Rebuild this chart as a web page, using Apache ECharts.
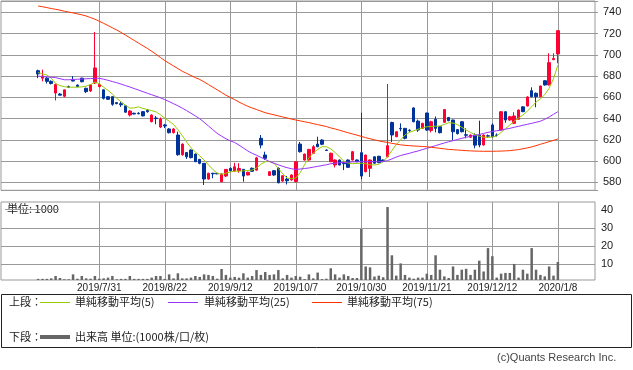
<!DOCTYPE html>
<html><head><meta charset="utf-8">
<script src="https://cdn.jsdelivr.net/npm/echarts@6/dist/echarts.min.js"></script>
<style>html,body{margin:0;padding:0;background:#fff}#c{width:633px;height:370px}</style>
</head><body><div id="c"></div>
<script>
const dates = ['2019/7/10','2019/7/11','2019/7/12','2019/7/16','2019/7/17','2019/7/18','2019/7/19','2019/7/22','2019/7/23','2019/7/24','2019/7/25','2019/7/26','2019/7/29','2019/7/30','2019/7/31',
'2019/8/1','2019/8/2','2019/8/5','2019/8/6','2019/8/7','2019/8/8','2019/8/9','2019/8/13','2019/8/14','2019/8/15','2019/8/16','2019/8/19','2019/8/20','2019/8/21','2019/8/22','2019/8/23','2019/8/26','2019/8/27','2019/8/28','2019/8/29','2019/8/30',
'2019/9/2','2019/9/3','2019/9/4','2019/9/5','2019/9/6','2019/9/9','2019/9/10','2019/9/11','2019/9/12','2019/9/13','2019/9/17','2019/9/18','2019/9/19','2019/9/20','2019/9/24','2019/9/25','2019/9/26','2019/9/27','2019/9/30',
'2019/10/1','2019/10/2','2019/10/3','2019/10/4','2019/10/7','2019/10/8','2019/10/9','2019/10/10','2019/10/11','2019/10/15','2019/10/16','2019/10/17','2019/10/18','2019/10/21','2019/10/23','2019/10/24','2019/10/25','2019/10/28','2019/10/29','2019/10/30','2019/10/31',
'2019/11/1','2019/11/5','2019/11/6','2019/11/7','2019/11/8','2019/11/11','2019/11/12','2019/11/13','2019/11/14','2019/11/15','2019/11/18','2019/11/19','2019/11/20','2019/11/21','2019/11/22','2019/11/25','2019/11/26','2019/11/27','2019/11/28','2019/11/29',
'2019/12/2','2019/12/3','2019/12/4','2019/12/5','2019/12/6','2019/12/9','2019/12/10','2019/12/11','2019/12/12','2019/12/13','2019/12/16','2019/12/17','2019/12/18','2019/12/19','2019/12/20','2019/12/23','2019/12/24','2019/12/25','2019/12/26','2019/12/27','2019/12/30',
'2020/1/6','2020/1/7','2020/1/8'];
const tickLabels = ['2019/7/31','2019/8/22','2019/9/12','2019/10/7','2019/10/30','2019/11/21','2019/12/12','2020/1/8'];
const priceTicks = [580,600,620,640,660,680,700,720,740];
const volumeTicks = [10,20,30,40];

const opens = [685,678,678,675,664,663,661,670,676,671.5,
678,668.5,666,673.5,670,667,660.6,660.6,655,654,
652,643.3,645,645,646.5,647.8,637,640.5,632,634,
630.2,626.7,624.5,606,608,610.4,606.6,601.6,597.9,583.1,
588.5,588.5,580.6,585.9,593.2,590.6,591,592.2,586.9,593.2,
591.5,621.4,605.7,586.5,591,593.2,581.2,583.1,582.2,580.6,
616,601,601,607.3,616,619.8,610.4,599.4,596.3,601,
598,601,601,601,607.9,590,593.2,604,604.5,601,
604.1,636.3,622.9,630.8,630.8,629,650,637.6,630.8,645.2,
628.8,639.3,632.3,636.5,641,638.6,629.6,637,624.8,622.4,
624.5,624.5,615.1,623.8,634,624.5,629.2,646.4,638.6,635.5,
639.3,651,651.8,666.2,663.8,660.6,675.6,671.6,695.4,700.8];
const closes = [682,680,675,673,672,662,667,669.5,675.3,670,
674.7,665.3,671.6,687.6,672,659,658.1,653.4,654,653,
646,647.1,644.3,644.5,642.5,646.5,643.3,640,639.5,633,
626.7,630.2,606,616,604,603.2,599.4,597.9,583.1,588.5,
588,588,587.9,592.2,591,594.7,593,585.9,589.5,590.4,
603,615.1,602.6,590,586.9,579.6,586.2,581.5,586.9,599.4,
608.8,606.6,611,613.5,613.5,615.8,610,607.3,601,596.3,
597.5,594.1,608.8,599.4,585.9,605.7,601,598,598.5,600,
614.5,624.5,627.6,630.3,621.4,628.6,637,629.2,635.5,629.2,
637,630.8,626.7,648.5,638,627.6,625.8,627.6,624.3,624.5,
615,615.1,624.5,623.4,622.9,624.2,646.4,638.6,641.7,642.4,
648,646.5,660.3,660.6,660.6,670.6,671.6,692.6,696.6,722.7];
const lows = [678,675,673,672,657,662,660,669,675,670,
674,664,665,672.5,669.5,658,657.5,652,653.5,651,
645.5,642,644,644,642,645.5,636.5,634.6,631,631,
626,626,605,605,602,602.5,599,597,577.5,582.5,
583.8,587.5,580,585,590,590,589,580.6,586.5,590,
591,612,601,586,586,579,580.5,578,581.5,580,
608,600.5,600.5,607,613,615,609.5,599,594,596,
591.5,593.5,600.5,599,582.8,589.5,585,597.5,598,599.5,
603.5,618,622.5,628,620.5,627.5,636.5,627.5,630.5,628.5,
627,627,626,636,637.5,619.8,625,627,621.4,622,
612,613,614.5,622,622,623,628.5,636,638,635,
639,646,651.5,660,650.6,660,671,671,695,692];
const highs = [686,686,679,676,673,664,667,671,680,672,
678.5,669,672,721.5,673,667.5,661,661,655.5,656,
652.5,648,645.5,646,647,649,644,642.4,641,635,
631,631,627.6,616.5,608.5,611,607,602,598,589,
589,589,588.5,592.5,594,598.4,598,592.5,590,594,
604,624.5,608.8,590.5,591.5,594,586.5,586,587.5,600,
618,607,611.5,615,622.9,620.5,611,608,601.5,601.5,
599.4,601.5,609.5,601.5,645.5,606,601.5,604.5,605,601.5,
672.5,637,628,635.5,631,630,650.5,639,636,645.5,
638,642,633,649,641.5,639,630,637.5,630.8,625,
626,638,625,625,635.5,626,647,647,642.5,646,
648.5,651.5,661,669.4,664.5,671,676,701.4,701.4,723];
const volumes = [1.9,1.9,1.9,2.2,3.5,2.4,1.7,1.7,4.4,2.0,
3.5,2.2,2.0,3.5,2.0,2.2,2.6,3.5,1.7,1.9,
1.9,3.5,1.9,1.9,1.9,1.9,2.6,3.5,3.5,1.9,
4.4,2.2,5.0,2.2,2.2,2.6,3.5,3.0,4.4,4.1,
3.5,2.0,7.4,4.1,2.6,3.0,2.6,5.0,2.6,3.5,
6.8,4.1,5.7,4.1,4.4,6.8,2.2,4.1,2.6,3.5,
3.1,1.8,4.4,2.2,5.4,1.8,2.0,7.8,4.4,2.6,
4.4,3.5,2.4,2.4,29.6,8.8,8.3,3.2,3.7,2.8,
41.8,15,3.7,10.5,4.1,2.6,2.0,2.6,2.6,4.8,
4.1,15,7,3.3,2.4,8.8,4.1,7,7.5,4.1,
7,12,6,19,14.5,2.6,4.8,5.2,5.2,10.2,
2.6,7,4.8,19,7,4.1,3.3,8.8,3.7,11.3];
const ma5 = [683.3,682,681,678,673,671,670,669.5,669.5,669.5,
669.8,670.5,672,674.3,672.8,669.5,666.5,663,659,655.8,
652.5,649.8,650,651,649.5,648.5,647.5,646.3,643.5,640.5,
637.5,634.5,629.5,624,618,612.5,608.5,605,601,596.5,
592,588.5,587.5,588.5,589.8,590.5,590.5,590.8,591.2,591.5,
593.5,597,599.4,599.5,598,593,588,584,583.5,584,
589,596.5,603,607.5,611,613.5,613.5,611.5,608,604,
600,598,597.5,597.8,598,597.5,596.5,596.3,597,599.5,
604,610,615.5,620,624.5,627,628.5,630,631,632.3,
632.5,632.8,633,634.5,636,635.8,634.3,631.8,629.2,627,
624.8,623.5,622.5,622.4,622.6,623.5,627,630.5,634,637.5,
640.5,643.3,647,651,655.5,658.5,662.5,668.5,677.5,690.4];
const ma25 = [680,679.5,679.2,678.9,678.5,677.5,676.5,676.5,676.8,677,
677.2,677.4,677.6,677.8,677.9,677,676,674.8,673.7,672.4,
671,669.7,668.2,666.8,665.3,663.8,662.4,661,659.5,657.8,
656,654,652,649.8,647.5,645,642.5,639.8,636.5,633,
629.5,626,623.5,621,619,617.5,615,612.3,609.5,607.3,
605.5,603.5,601.5,599.5,598,596.5,595,593.8,592.8,592.2,
592.5,593,593.5,594.3,595,595.8,596.5,597.5,598,598.4,
598.7,599,599.2,599.4,599.5,599.5,599.5,599.4,599.4,599.5,
600.5,602,603.8,605.2,606.3,607.3,608.5,609.5,610.8,612,
613.3,614.5,615.8,617,618.2,619.2,620.3,621.4,622.4,623.3,
624.2,625,626,627,627.8,628.5,629.2,630,630.8,631.8,
632.7,633.7,634.6,635.5,636.5,637.5,639.3,641.5,644,646.4];
const ma75 = [745.9,745.2,744.4,743.5,742.8,742,741,740.2,739.4,738.5,
737.6,736.5,735,733.5,731.5,729.6,727.5,725.4,723.3,721,
718.5,716,713.5,711,708.5,706,703.3,700.5,697.5,694.5,
692,689.5,687,684.5,682.5,680.5,678.5,676.8,674.5,672,
669.5,667,664.5,662,659.8,657.8,655.5,653.5,651.5,650,
648.5,647,645.5,644.5,643.5,642.5,641.5,640.5,639.5,638.6,
637.8,637,636.2,635.2,634.3,633.4,632.5,631.2,630.2,629,
627.8,626.6,625.5,624.4,623.2,622,621,620,619,618.2,
617.5,616.7,616,615.3,614.8,614.5,614.2,614,613.7,613.5,
613,612.5,612,611.5,611,610.7,610.4,610.1,609.8,609.6,
609.4,609.3,609.2,609.2,609.2,609.3,609.4,609.6,609.8,610.3,
610.8,611.6,612.4,613.3,614.5,615.8,617,618.3,619.5,620.8];

const PAD = 8;
const cats = [];
for (let k = 0; k < PAD; k++) cats.push('pre' + k);
dates.forEach(d => cats.push(d));
for (let k = 0; k < PAD; k++) cats.push('post' + k);

const candleData = dates.map((d, i) => [i + PAD, opens[i], closes[i], lows[i], highs[i]]);
const volData = dates.map((d, i) => [i + PAD, volumes[i]]);
const lineData = arr => arr.map((v, i) => [i + PAD, v]);

const GRID = '#999';
const FONT = '"Liberation Sans", Arial, sans-serif';
const JP = '"Noto Sans CJK JP", sans-serif';
const showTick = (idx, val) => tickLabels.indexOf(val) >= 0;

const chart = echarts.init(document.getElementById('c'), null, {renderer: 'canvas'});
const xBase = (gi, showLabels) => ({
  type: 'category', gridIndex: gi, data: cats, boundaryGap: true,
  axisLine: {show: false}, axisTick: {show: false},
  axisLabel: {show: showLabels, interval: showTick, fontFamily: FONT, fontSize: 10, color: '#222', margin: 3},
  splitLine: {show: true, interval: showTick, alignWithLabel: true, lineStyle: {color: GRID, width: 1}}
});
chart.setOption({
  animation: false,
  backgroundColor: '#fff',
  grid: [
    {left: 1, top: 1, width: 594, height: 189.3, show: true, borderColor: GRID, borderWidth: 1, backgroundColor: 'transparent'},
    {left: 1, top: 202, width: 594, height: 78, show: true, borderColor: GRID, borderWidth: 1, backgroundColor: 'transparent'}
  ],
  xAxis: [xBase(0, false), xBase(1, true)],
  yAxis: [
    {type: 'value', gridIndex: 0, position: 'right', min: 572.5, max: 750.6, splitNumber: 9, scale: true,
     axisLine: {show: false}, axisTick: {show: true, length: 3, lineStyle: {color: GRID}},
     axisLabel: {margin: 8, fontFamily: FONT, fontSize: 11, color: '#222',
       formatter: v => priceTicks.indexOf(Math.round(v * 100) / 100) >= 0 ? String(v) : ''},
     splitLine: {show: true, lineStyle: {color: GRID, width: 1}}},
    {type: 'value', gridIndex: 1, position: 'right', min: 1.28, max: 44.6, splitNumber: 5,
     axisLine: {show: false}, axisTick: {show: false},
     axisLabel: {margin: 6, fontFamily: FONT, fontSize: 11, color: '#222',
       formatter: v => volumeTicks.indexOf(Math.round(v * 100) / 100) >= 0 ? String(v) : ''},
     splitLine: {show: false}}
  ],
  series: [
    {type: 'candlestick', xAxisIndex: 0, yAxisIndex: 0, data: candleData, encode: {x: 0, y: [1, 2, 3, 4]},
     barWidth: 3, itemStyle: {color: '#ff0033', color0: '#003399', borderColor: '#ff0033', borderColor0: '#003399', borderWidth: 1}},
    {type: 'line', name: '単純移動平均(5)', xAxisIndex: 0, yAxisIndex: 0, data: lineData(ma5), showSymbol: false, symbol: 'none',
     lineStyle: {color: '#99cc00', width: 1}},
    {type: 'line', name: '単純移動平均(25)', xAxisIndex: 0, yAxisIndex: 0, data: lineData(ma25), showSymbol: false, symbol: 'none',
     lineStyle: {color: '#9933ff', width: 1}},
    {type: 'line', name: '単純移動平均(75)', xAxisIndex: 0, yAxisIndex: 0, data: lineData(ma75), showSymbol: false, symbol: 'none',
     lineStyle: {color: '#ff3300', width: 1}},
    {type: 'bar', name: '出来高', xAxisIndex: 1, yAxisIndex: 1, data: volData, barWidth: 2.5, z: 3,
     itemStyle: {color: '#666666'},
     markLine: {silent: true, symbol: 'none', z: 1, animation: false, label: {show: false},
       lineStyle: {color: GRID, type: 'solid', width: 1},
       data: volumeTicks.slice(0, 3).map(v => ({yAxis: v}))}}
  ],
  graphic: [
    {type: 'text', x: 7, y: 208.5, style: {text: '単位: 1000', font: '11px ' + JP, fill: '#222', textVerticalAlign: 'middle'}},
    {type: 'line', shape: {x1: 5, y1: 209.5, x2: 59, y2: 209.5}, style: {stroke: GRID, lineWidth: 1}},
    {type: 'rect', shape: {x: 1.5, y: 294.5, width: 630, height: 53}, style: {fill: 'none', stroke: '#222', lineWidth: 1}},
    {type: 'text', x: 9, y: 302, style: {text: '上段：', font: '11px ' + JP, fill: '#222', textVerticalAlign: 'middle'}},
    {type: 'line', shape: {x1: 40, y1: 302.5, x2: 70, y2: 302.5}, style: {stroke: '#99cc00', lineWidth: 1}},
    {type: 'text', x: 75, y: 302, style: {text: '単純移動平均(5)', font: '11px ' + JP, fill: '#222', textVerticalAlign: 'middle'}},
    {type: 'line', shape: {x1: 168, y1: 302.5, x2: 198, y2: 302.5}, style: {stroke: '#9933ff', lineWidth: 1}},
    {type: 'text', x: 204, y: 302, style: {text: '単純移動平均(25)', font: '11px ' + JP, fill: '#222', textVerticalAlign: 'middle'}},
    {type: 'line', shape: {x1: 312, y1: 302.5, x2: 342, y2: 302.5}, style: {stroke: '#ff3300', lineWidth: 1}},
    {type: 'text', x: 347, y: 302, style: {text: '単純移動平均(75)', font: '11px ' + JP, fill: '#222', textVerticalAlign: 'middle'}},
    {type: 'text', x: 9, y: 337, style: {text: '下段：', font: '11px ' + JP, fill: '#222', textVerticalAlign: 'middle'}},
    {type: 'line', shape: {x1: 40, y1: 337, x2: 70, y2: 337}, style: {stroke: '#666666', lineWidth: 4}},
    {type: 'text', x: 75, y: 337, style: {text: '出来高 単位:(1000株/口/枚)', font: '11px ' + JP, fill: '#222', textVerticalAlign: 'middle'}},
    {type: 'text', x: 497, y: 358, style: {text: '(c)Quants Research Inc.', font: '11px ' + FONT, fill: '#444', textVerticalAlign: 'middle'}}
  ]
});
</script></body></html>
